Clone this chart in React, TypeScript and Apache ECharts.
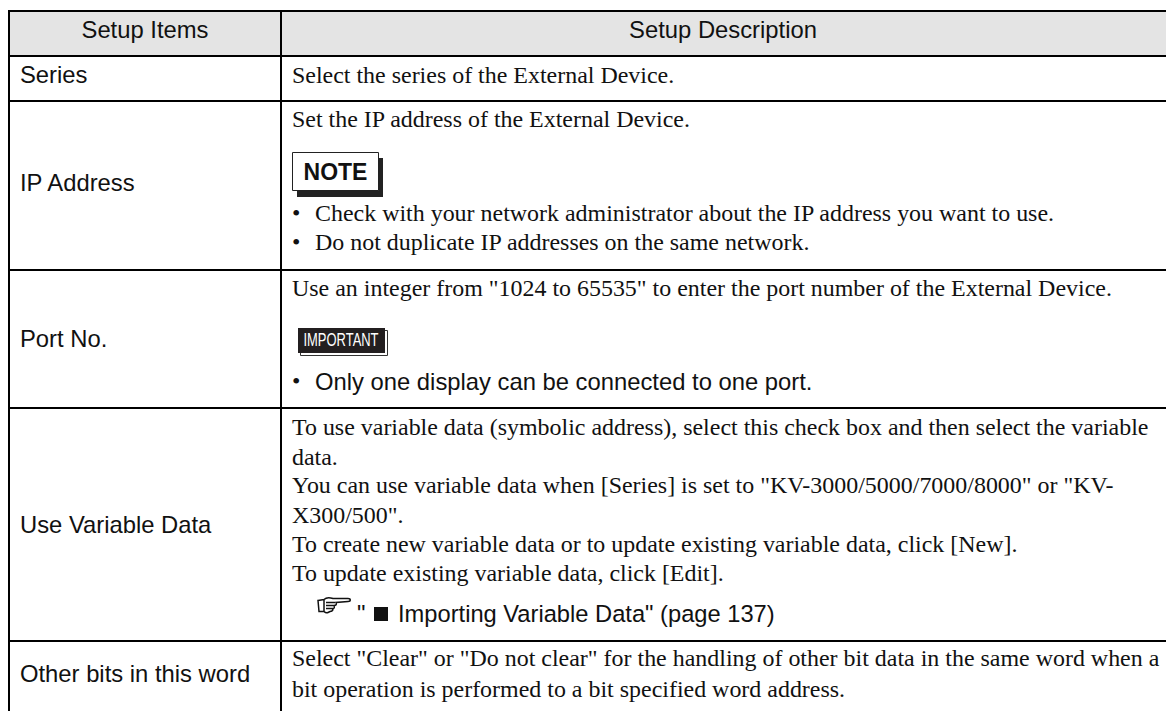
import React, { useEffect, useRef } from "react";
import * as echarts from "echarts";

const SERIF = "'Liberation Serif', serif";
const SANS = "'Liberation Sans', sans-serif";

const headers = ["Setup Items", "Setup Description"];
const rowItems = ["Series", "IP Address", "Port No.", "Use Variable Data", "Other bits in this word"];
const rowItemY = [74, 182, 338.5, 524.5, 673];

const serifLines: [string, number, number][] = [
  ["Select the series of the External Device.", 292, 75],
  ["Set the IP address of the External Device.", 292, 119],
  ["Check with your network administrator about the IP address you want to use.", 315, 213],
  ["Do not duplicate IP addresses on the same network.", 315, 242],
  ['Use an integer from "1024 to 65535" to enter the port number of the External Device.', 292, 288],
  ["To use variable data (symbolic address), select this check box and then select the variable", 292, 426.5],
  ["data.", 292, 457],
  ['You can use variable data when [Series] is set to "KV-3000/5000/7000/8000" or "KV-', 292, 485],
  ['X300/500".', 292, 515],
  ["To create new variable data or to update existing variable data, click [New].", 292, 544],
  ["To update existing variable data, click [Edit].", 292, 573],
  ['Select "Clear" or "Do not clear" for the handling of other bit data in the same word when a', 292, 658],
  ["bit operation is performed to a bit specified word address.", 292, 688.5],
];
const bulletY = [213, 242, 381];
const verticalLines = [9, 281];
const horizontalLines = [11, 56, 101, 270, 408, 641];

const HAND_D =
  "M0 3 L6 2 C8 0 12 0 15 1 L30 1 C33 1 33 4 30 4 L18 5 C19 7 18 8 16 8 C17 10 16 11 15 11 C15 13 14 14 12 14 L10 15 C8 16 7 15 6 14 L1 14 Z " +
  "M8 5 L17 5 M8 8 L16 8 M8 11 L15 11 M6 2 L6 14";
echarts.graphic.registerShape("pointingHand", echarts.graphic.extendPath(HAND_D, {}) as any);

export default function App() {
  const ref = useRef<HTMLDivElement>(null);
  useEffect(() => {
    const chart = echarts.init(ref.current!, null, { renderer: "svg" });
    const t = (text: string, x: number, y: number, size: number, family: string, extra: any = {}, el: any = {}) => ({
      type: "text", x, y, ...el,
      style: { text, fontSize: size, fontFamily: family, fill: "#111", verticalAlign: "middle", align: "left", ...extra },
    });
    const els: any[] = [];
    els.push({ type: "rect", shape: { x: 9, y: 11, width: 1157, height: 45 }, style: { fill: "#e4e4e4" } });
    for (const x of verticalLines) els.push({ type: "rect", shape: { x: x - 1, y: 10, width: 2, height: 701 }, style: { fill: "#000" } });
    for (const y of horizontalLines) els.push({ type: "rect", shape: { x: 8, y: y - 1, width: 1158, height: 2 }, style: { fill: "#000" } });
    els.push(t(headers[0], 145, 29, 23.8, SANS, { align: "center" }));
    els.push(t(headers[1], 723, 29, 23.8, SANS, { align: "center" }));
    rowItems.forEach((r, i) => els.push(t(r, 20, rowItemY[i], 23.8, SANS)));
    serifLines.forEach(([s, x, y]) => els.push(t(s, x, y, 23.95, SERIF)));
    bulletY.forEach((y) => els.push(t("•", 292, y, 24, SERIF)));
    // NOTE badge
    els.push({ type: "rect", shape: { x: 297, y: 158, width: 86, height: 39 }, style: { fill: "#222" } });
    els.push({ type: "rect", shape: { x: 292.5, y: 152.5, width: 86, height: 38 }, style: { fill: "#fff", stroke: "#222", lineWidth: 1 } });
    els.push(t("NOTE", 335.5, 171.5, 23, SANS, { align: "center", fontWeight: "bold" }));
    // IMPORTANT badge
    els.push({ type: "rect", shape: { x: 300.5, y: 330.5, width: 87, height: 25 }, style: { fill: "#fff", stroke: "#333", lineWidth: 1 } });
    els.push({ type: "rect", shape: { x: 298, y: 328, width: 87, height: 25 }, style: { fill: "#231f20" } });
    els.push(t("IMPORTANT", 341, 340, 18, SANS, { align: "center", fill: "#fff" }, { scaleX: 0.72 }));
    els.push(t("Only one display can be connected to one port.", 315, 381.5, 23.8, SANS));
    // Reference line
    els.push({ type: "pointingHand", x: 318, y: 597.5, style: { fill: "#fff", stroke: "#111", lineWidth: 1.5 } });
    els.push(t('"', 357, 613, 23.8, SANS));
    els.push({ type: "rect", shape: { x: 374, y: 607, width: 14, height: 14 }, style: { fill: "#111" } });
    els.push(t('Importing Variable Data" (page 137)', 398, 613.5, 23.7, SANS));
    chart.setOption({ animation: false, graphic: { elements: els } });
    return () => chart.dispose();
  }, []);
  return <div ref={ref} style={{ position: "absolute", left: 0, top: 0, width: 1166, height: 711, background: "#fff" }} />;
}
